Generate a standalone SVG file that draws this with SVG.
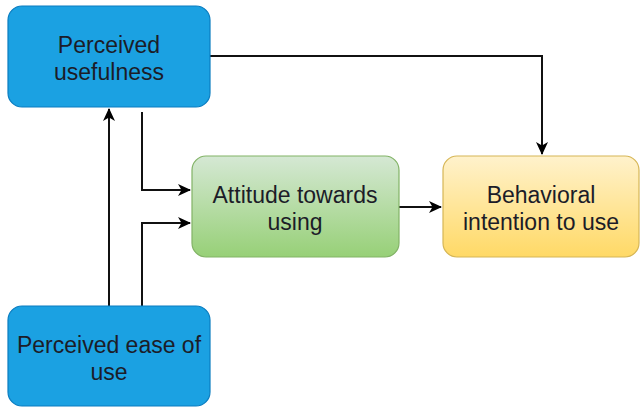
<svg xmlns="http://www.w3.org/2000/svg" width="640" height="411" viewBox="0 0 640 411">
  <style>
    .lbl { font-family: "Liberation Sans", Arial, sans-serif; font-size: 23px; text-anchor: middle; fill: #1c1c28; }
    .blue { fill: #1ba1e2; stroke: #0b7dc0; stroke-width: 1.2; }
    .green { fill: url(#gGreen); stroke: #82b366; stroke-width: 1.2; }
    .yellow { fill: url(#gYellow); stroke: #d6b656; stroke-width: 1.2; }
    .edge { fill: none; stroke: #111; stroke-width: 2; }
  </style>
  <defs>
    <linearGradient id="gGreen" x1="0" y1="0" x2="0" y2="1">
      <stop offset="0" stop-color="#d5e8d4"/>
      <stop offset="1" stop-color="#97d077"/>
    </linearGradient>
    <linearGradient id="gYellow" x1="0" y1="0" x2="0" y2="1">
      <stop offset="0" stop-color="#fff2cc"/>
      <stop offset="1" stop-color="#ffd966"/>
    </linearGradient>
    <marker id="arrow" markerWidth="14" markerHeight="14" refX="12" refY="7" orient="auto" markerUnits="userSpaceOnUse">
      <path d="M0,1 L13,7 L0,13 L3.5,7 Z" fill="#000"/>
    </marker>
  </defs>

  <g id="edges">
    <path class="edge" d="M109,306 V109" marker-end="url(#arrow)"/>
    <path class="edge" d="M142,112 V190 H190" marker-end="url(#arrow)"/>
    <path class="edge" d="M142,306 V223 H190" marker-end="url(#arrow)"/>
    <path class="edge" d="M399,207 H441" marker-end="url(#arrow)"/>
    <path class="edge" d="M210,56 H542 V154" marker-end="url(#arrow)"/>
  </g>

  <g id="perceived-usefulness">
    <rect class="blue" x="8" y="6" width="202" height="101" rx="14"/>
    <text class="lbl" x="109" y="53">Perceived</text>
    <text class="lbl" x="109" y="80">usefulness</text>
  </g>

  <g id="perceived-ease">
    <rect class="blue" x="8" y="306" width="202" height="100" rx="14"/>
    <text class="lbl" x="109" y="353">Perceived ease of</text>
    <text class="lbl" x="109" y="380">use</text>
  </g>

  <g id="attitude">
    <rect class="green" x="192" y="156" width="207" height="101" rx="14"/>
    <text class="lbl" x="295" y="203">Attitude towards</text>
    <text class="lbl" x="295" y="230">using</text>
  </g>

  <g id="intention">
    <rect class="yellow" x="443" y="156" width="196" height="101" rx="14"/>
    <text class="lbl" x="541" y="203">Behavioral</text>
    <text class="lbl" x="541" y="230">intention to use</text>
  </g>
</svg>
